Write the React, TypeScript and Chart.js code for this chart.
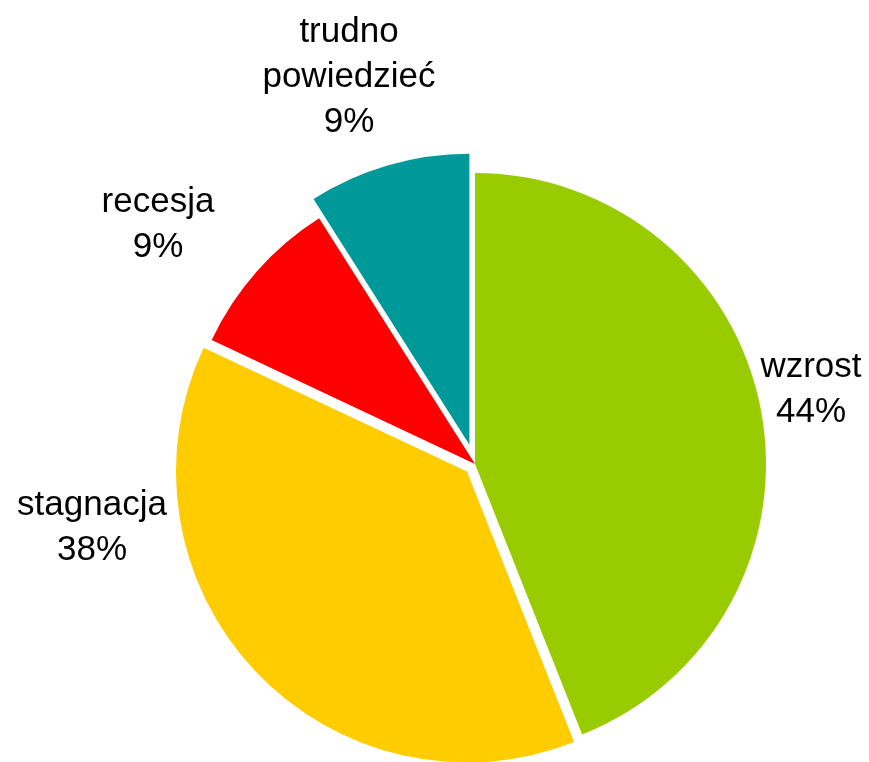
import React, { useEffect, useRef } from 'react';
import { Chart, registerables } from 'chart.js';

Chart.register(...registerables);

// ---- data ----
const CATEGORIES = ['wzrost', 'stagnacja', 'recesja', 'trudno powiedzieć'];
const VALUES = [44, 38, 9, 9];

// ---- styles ----
const COLORS = ['#99CC00', '#FFCC00', '#FF0000', '#009999'];
const EXPLODE = [0, 11, 0, 20]; // px each slice is pulled out along its bisector
const LABEL_ANCHORS = [
  { x: 811, y: 377 },
  { x: 92, y: 515 },
  { x: 158, y: 212 },
  { x: 349, y: 42 },
];
const FONT = '35px "Liberation Sans", Arial, Helvetica, sans-serif';
const LINE_HEIGHT = 45;

function wrapLabel(s: string): string[] {
  return s.length > 10 ? s.split(' ') : [s];
}

const explodePlugin = {
  id: 'explodeSlices',
  afterDatasetsUpdate(chart: any) {
    const meta = chart.getDatasetMeta(0);
    meta.data.forEach((arc: any, i: number) => {
      const d = EXPLODE[i] || 0;
      const mid = (arc.startAngle + arc.endAngle) / 2;
      arc.x += Math.cos(mid) * d;
      arc.y += Math.sin(mid) * d;
    });
  },
};

const labelPlugin = {
  id: 'pieLabels',
  afterDatasetsDraw(chart: any) {
    const ctx = chart.ctx;
    const data = chart.data.datasets[0].data as number[];
    const total = data.reduce((a, b) => a + b, 0);
    ctx.save();
    ctx.font = FONT;
    ctx.fillStyle = '#000000';
    ctx.textAlign = 'center';
    ctx.textBaseline = 'alphabetic';
    (chart.data.labels as string[]).forEach((lab, i) => {
      const pct = Math.round((data[i] / total) * 100) + '%';
      const lines = [...wrapLabel(lab), pct];
      const a = LABEL_ANCHORS[i];
      lines.forEach((ln, k) => ctx.fillText(ln, a.x, a.y + k * LINE_HEIGHT));
    });
    ctx.restore();
  },
};

export default function App() {
  const ref = useRef<HTMLCanvasElement | null>(null);

  useEffect(() => {
    if (!ref.current) return;
    const chart = new Chart(ref.current, {
      type: 'pie',
      data: {
        labels: CATEGORIES,
        datasets: [
          {
            data: VALUES,
            backgroundColor: COLORS,
            borderWidth: 0,
            radius: 291,
          } as any,
        ],
      },
      options: {
        animation: false,
        responsive: false,
        devicePixelRatio: 1,
        layout: { padding: { left: 81, top: 166, right: 0, bottom: 0 } },
        plugins: {
          legend: { display: false },
          tooltip: { enabled: false },
        },
      } as any,
      plugins: [explodePlugin, labelPlugin],
    });
    return () => chart.destroy();
  }, []);

  return (
    <div style={{ position: 'absolute', left: 0, top: 0, width: 869, height: 762, background: '#ffffff' }}>
      <canvas ref={ref} width={869} height={762} style={{ display: 'block' }} />
    </div>
  );
}
